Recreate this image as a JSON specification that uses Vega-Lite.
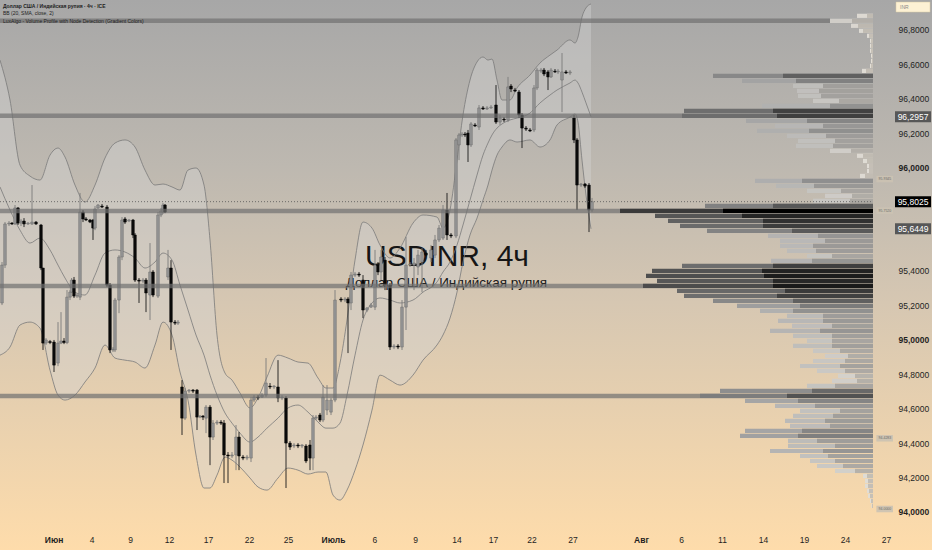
{
  "$schema": "https://vega.github.io/schema/vega-lite/v6.json",
  "width": 932,
  "height": 550,
  "padding": 0,
  "autosize": {"type": "none"},
  "background": "#fddcac",
  "config": {"view": {"stroke": null}, "font": "Liberation Sans"},
  "datasets": {
    "candles": [
      {"t":0.5,"o":95.214,"h":95.452,"l":95.202,"c":95.434},
      {"t":1.25,"o":95.434,"h":95.684,"l":95.417,"c":95.673},
      {"t":2.25,"o":95.673,"h":95.690,"l":95.661,"c":95.678},
      {"t":3,"o":95.678,"h":95.684,"l":95.667,"c":95.673},
      {"t":3.75,"o":95.673,"h":95.783,"l":95.667,"c":95.766},
      {"t":4.5,"o":95.766,"h":95.771,"l":95.667,"c":95.678},
      {"t":5.25,"o":95.678,"h":95.702,"l":95.661,"c":95.690},
      {"t":6,"o":95.690,"h":95.707,"l":95.655,"c":95.673},
      {"t":7,"o":95.673,"h":95.684,"l":95.667,"c":95.678},
      {"t":8,"o":95.673,"h":95.899,"l":95.667,"c":95.684},
      {"t":9,"o":95.684,"h":95.690,"l":95.667,"c":95.673},
      {"t":10.25,"o":95.667,"h":95.673,"l":95.405,"c":95.417},
      {"t":10.75,"o":95.417,"h":95.417,"l":94.941,"c":94.981},
      {"t":11.5,"o":94.981,"h":95.010,"l":94.970,"c":94.999},
      {"t":12.5,"o":94.990,"h":94.999,"l":94.975,"c":94.984},
      {"t":13.5,"o":94.987,"h":94.999,"l":94.813,"c":94.853},
      {"t":14.5,"o":94.865,"h":95.103,"l":94.847,"c":94.981},
      {"t":15.25,"o":94.981,"h":95.161,"l":94.975,"c":94.993},
      {"t":16,"o":94.993,"h":95.010,"l":94.975,"c":94.984},
      {"t":16.75,"o":94.984,"h":95.289,"l":94.975,"c":95.248},
      {"t":17.5,"o":95.248,"h":95.289,"l":95.231,"c":95.277},
      {"t":17.9,"o":95.277,"h":95.359,"l":95.272,"c":95.347},
      {"t":18.5,"o":95.347,"h":95.365,"l":95.243,"c":95.254},
      {"t":19.25,"o":95.254,"h":95.272,"l":95.243,"c":95.260},
      {"t":20,"o":95.248,"h":95.853,"l":95.231,"c":95.742},
      {"t":20.75,"o":95.742,"h":95.754,"l":95.684,"c":95.702},
      {"t":21.5,"o":95.702,"h":95.713,"l":95.690,"c":95.696},
      {"t":22.5,"o":95.696,"h":95.702,"l":95.678,"c":95.684},
      {"t":23.25,"o":95.696,"h":95.702,"l":95.580,"c":95.649},
      {"t":23.75,"o":95.649,"h":95.777,"l":95.637,"c":95.760},
      {"t":24.5,"o":95.766,"h":95.789,"l":95.760,"c":95.783},
      {"t":25.5,"o":95.777,"h":95.789,"l":95.766,"c":95.771},
      {"t":26.75,"o":95.771,"h":95.783,"l":95.307,"c":95.318},
      {"t":27.5,"o":95.318,"h":95.330,"l":94.923,"c":94.941},
      {"t":28.25,"o":94.941,"h":94.958,"l":94.929,"c":94.946},
      {"t":28.75,"o":94.941,"h":95.243,"l":94.929,"c":95.231},
      {"t":29.75,"o":95.231,"h":95.492,"l":95.155,"c":95.481},
      {"t":30.5,"o":95.481,"h":95.713,"l":95.463,"c":95.696},
      {"t":31.25,"o":95.702,"h":95.713,"l":95.673,"c":95.684},
      {"t":32.25,"o":95.690,"h":95.702,"l":95.684,"c":95.696},
      {"t":33.25,"o":95.696,"h":95.702,"l":95.591,"c":95.609},
      {"t":33.75,"o":95.609,"h":95.620,"l":95.336,"c":95.347},
      {"t":34.75,"o":95.347,"h":95.359,"l":95.214,"c":95.341},
      {"t":35.75,"o":95.341,"h":95.359,"l":95.330,"c":95.347},
      {"t":36.5,"o":95.347,"h":95.359,"l":95.161,"c":95.272},
      {"t":37.5,"o":95.260,"h":95.562,"l":95.115,"c":95.394},
      {"t":38.25,"o":95.394,"h":95.405,"l":95.248,"c":95.260},
      {"t":39.5,"o":95.254,"h":95.742,"l":95.243,"c":95.725},
      {"t":40.25,"o":95.725,"h":95.766,"l":95.713,"c":95.748},
      {"t":40.75,"o":95.742,"h":95.795,"l":95.731,"c":95.783},
      {"t":41.25,"o":95.783,"h":95.789,"l":95.736,"c":95.742},
      {"t":42,"o":95.365,"h":95.522,"l":95.347,"c":95.417},
      {"t":42.75,"o":95.417,"h":95.463,"l":94.941,"c":95.103},
      {"t":43.75,"o":95.103,"h":95.115,"l":95.086,"c":95.097},
      {"t":44.5,"o":95.097,"h":95.115,"l":95.086,"c":95.103},
      {"t":45.5,"o":94.726,"h":94.766,"l":94.447,"c":94.545},
      {"t":46.25,"o":94.545,"h":94.720,"l":94.534,"c":94.702},
      {"t":47.25,"o":94.702,"h":94.714,"l":94.691,"c":94.708},
      {"t":48.25,"o":94.708,"h":94.714,"l":94.691,"c":94.702},
      {"t":49.25,"o":94.708,"h":94.714,"l":94.476,"c":94.551},
      {"t":50,"o":94.551,"h":94.563,"l":94.545,"c":94.557},
      {"t":50.75,"o":94.557,"h":94.563,"l":94.534,"c":94.551},
      {"t":51.5,"o":94.545,"h":94.621,"l":94.458,"c":94.609},
      {"t":52.5,"o":94.609,"h":94.621,"l":94.272,"c":94.435},
      {"t":53.25,"o":94.435,"h":94.534,"l":94.418,"c":94.516},
      {"t":54.25,"o":94.516,"h":94.534,"l":94.505,"c":94.522},
      {"t":55.25,"o":94.522,"h":94.534,"l":94.505,"c":94.516},
      {"t":56,"o":94.516,"h":94.534,"l":94.168,"c":94.331},
      {"t":57,"o":94.331,"h":94.348,"l":94.168,"c":94.325},
      {"t":58,"o":94.325,"h":94.348,"l":94.313,"c":94.331},
      {"t":59,"o":94.331,"h":94.505,"l":94.243,"c":94.435},
      {"t":59.75,"o":94.435,"h":94.464,"l":94.243,"c":94.325},
      {"t":60.75,"o":94.319,"h":94.331,"l":94.301,"c":94.313},
      {"t":61.75,"o":94.313,"h":94.331,"l":94.301,"c":94.319},
      {"t":62.75,"o":94.313,"h":94.667,"l":94.290,"c":94.650},
      {"t":63.5,"o":94.650,"h":94.679,"l":94.638,"c":94.667},
      {"t":64.5,"o":94.667,"h":94.679,"l":94.650,"c":94.662},
      {"t":65.5,"o":94.667,"h":94.691,"l":94.662,"c":94.679},
      {"t":66.5,"o":94.679,"h":94.894,"l":94.667,"c":94.749},
      {"t":67.5,"o":94.731,"h":94.749,"l":94.714,"c":94.726},
      {"t":68.5,"o":94.726,"h":94.737,"l":94.714,"c":94.731},
      {"t":69.5,"o":94.726,"h":94.882,"l":94.638,"c":94.662},
      {"t":70.5,"o":94.662,"h":94.679,"l":94.650,"c":94.667},
      {"t":71.5,"o":94.662,"h":94.673,"l":94.139,"c":94.400},
      {"t":72.5,"o":94.400,"h":94.412,"l":94.360,"c":94.377},
      {"t":73.5,"o":94.383,"h":94.400,"l":94.371,"c":94.389},
      {"t":74.5,"o":94.389,"h":94.400,"l":94.371,"c":94.383},
      {"t":75.5,"o":94.383,"h":94.394,"l":94.371,"c":94.389},
      {"t":76.5,"o":94.383,"h":94.394,"l":94.284,"c":94.296},
      {"t":77.5,"o":94.389,"h":94.418,"l":94.243,"c":94.313},
      {"t":78.25,"o":94.313,"h":94.563,"l":94.243,"c":94.545},
      {"t":79,"o":94.545,"h":94.563,"l":94.534,"c":94.551},
      {"t":80,"o":94.563,"h":94.575,"l":94.522,"c":94.534},
      {"t":80.75,"o":94.534,"h":94.737,"l":94.522,"c":94.667},
      {"t":81.75,"o":94.592,"h":94.737,"l":94.563,"c":94.650},
      {"t":82.75,"o":94.580,"h":94.662,"l":94.563,"c":94.650},
      {"t":83.75,"o":94.650,"h":95.289,"l":94.638,"c":95.231},
      {"t":85.25,"o":95.237,"h":95.248,"l":95.219,"c":95.231},
      {"t":86.25,"o":95.231,"h":95.248,"l":95.219,"c":95.237},
      {"t":87,"o":95.237,"h":95.248,"l":94.923,"c":95.214},
      {"t":87.75,"o":95.214,"h":95.394,"l":95.173,"c":95.376},
      {"t":88.75,"o":95.376,"h":95.394,"l":95.365,"c":95.382},
      {"t":89.75,"o":95.382,"h":95.394,"l":95.365,"c":95.376},
      {"t":90.75,"o":95.347,"h":95.376,"l":95.126,"c":95.173},
      {"t":91.75,"o":95.173,"h":95.190,"l":95.161,"c":95.185},
      {"t":92.75,"o":95.190,"h":95.214,"l":95.185,"c":95.202},
      {"t":93.75,"o":95.190,"h":95.522,"l":95.173,"c":95.434},
      {"t":94.5,"o":95.434,"h":95.452,"l":95.376,"c":95.394},
      {"t":95.25,"o":95.394,"h":95.522,"l":95.347,"c":95.481},
      {"t":96.25,"o":95.463,"h":95.481,"l":95.289,"c":95.318},
      {"t":97.5,"o":95.318,"h":95.330,"l":94.941,"c":94.958},
      {"t":98.5,"o":94.958,"h":94.975,"l":94.946,"c":94.964},
      {"t":99.5,"o":94.964,"h":94.975,"l":94.946,"c":94.958},
      {"t":100.5,"o":94.958,"h":95.231,"l":94.941,"c":95.190},
      {"t":101.5,"o":95.190,"h":95.597,"l":95.057,"c":95.434},
      {"t":102.5,"o":95.434,"h":95.452,"l":95.423,"c":95.440},
      {"t":103.5,"o":95.434,"h":95.475,"l":95.289,"c":95.446},
      {"t":104.5,"o":95.423,"h":95.522,"l":95.376,"c":95.492},
      {"t":105.5,"o":95.452,"h":95.533,"l":95.277,"c":95.510},
      {"t":106.5,"o":95.504,"h":95.522,"l":95.481,"c":95.492},
      {"t":107.75,"o":95.475,"h":95.551,"l":95.452,"c":95.522},
      {"t":108.75,"o":95.492,"h":95.609,"l":95.475,"c":95.580},
      {"t":109.75,"o":95.580,"h":95.667,"l":95.568,"c":95.649},
      {"t":110.75,"o":95.591,"h":95.783,"l":95.580,"c":95.754},
      {"t":111.75,"o":95.754,"h":95.853,"l":95.580,"c":95.609},
      {"t":112.75,"o":95.609,"h":95.620,"l":95.591,"c":95.603},
      {"t":114,"o":95.603,"h":96.172,"l":95.591,"c":96.161},
      {"t":114.75,"o":96.132,"h":96.201,"l":96.044,"c":96.190},
      {"t":115.5,"o":96.190,"h":96.207,"l":96.178,"c":96.195},
      {"t":116.25,"o":96.195,"h":96.207,"l":96.178,"c":96.190},
      {"t":117,"o":96.201,"h":96.219,"l":96.033,"c":96.132},
      {"t":117.75,"o":96.132,"h":96.265,"l":96.120,"c":96.254},
      {"t":118.75,"o":96.248,"h":96.259,"l":96.236,"c":96.242},
      {"t":119.75,"o":96.236,"h":96.364,"l":96.219,"c":96.347},
      {"t":120.75,"o":96.347,"h":96.358,"l":96.335,"c":96.341},
      {"t":121.75,"o":96.341,"h":96.358,"l":96.335,"c":96.347},
      {"t":122.75,"o":96.347,"h":96.364,"l":96.341,"c":96.352},
      {"t":124,"o":96.364,"h":96.480,"l":96.254,"c":96.265},
      {"t":125,"o":96.265,"h":96.306,"l":96.248,"c":96.288},
      {"t":126,"o":96.282,"h":96.294,"l":96.265,"c":96.277},
      {"t":127,"o":96.277,"h":96.527,"l":96.265,"c":96.469},
      {"t":127.75,"o":96.474,"h":96.486,"l":96.439,"c":96.457},
      {"t":128.75,"o":96.451,"h":96.463,"l":96.439,"c":96.445},
      {"t":129.75,"o":96.439,"h":96.451,"l":96.288,"c":96.306},
      {"t":130.5,"o":96.306,"h":96.317,"l":96.114,"c":96.230},
      {"t":131.5,"o":96.230,"h":96.242,"l":96.213,"c":96.224},
      {"t":132.5,"o":96.219,"h":96.230,"l":96.207,"c":96.213},
      {"t":133.5,"o":96.219,"h":96.480,"l":96.207,"c":96.463},
      {"t":134.25,"o":96.463,"h":96.579,"l":96.451,"c":96.567},
      {"t":135.25,"o":96.561,"h":96.579,"l":96.550,"c":96.567},
      {"t":136,"o":96.567,"h":96.579,"l":96.532,"c":96.544},
      {"t":137,"o":96.556,"h":96.567,"l":96.451,"c":96.527},
      {"t":137.75,"o":96.527,"h":96.579,"l":96.521,"c":96.567},
      {"t":138.75,"o":96.561,"h":96.573,"l":96.550,"c":96.556},
      {"t":139.5,"o":96.556,"h":96.573,"l":96.544,"c":96.561},
      {"t":140.5,"o":96.509,"h":96.666,"l":96.323,"c":96.556},
      {"t":141.5,"o":96.556,"h":96.567,"l":96.544,"c":96.550},
      {"t":142.5,"o":96.550,"h":96.567,"l":96.538,"c":96.556},
      {"t":143.5,"o":96.288,"h":96.306,"l":96.143,"c":96.161},
      {"t":144.25,"o":96.161,"h":96.172,"l":95.754,"c":95.899},
      {"t":145.25,"o":95.899,"h":95.911,"l":95.888,"c":95.905},
      {"t":146.25,"o":95.905,"h":95.911,"l":95.882,"c":95.893},
      {"t":147.25,"o":95.899,"h":95.911,"l":95.626,"c":95.754},
      {"t":148,"o":95.754,"h":95.824,"l":95.742,"c":95.8025}
    ],
    "bands": [
      {"t":0,"up":96.625,"mid":95.888,"low":94.911},
      {"t":2.5,"up":96.393,"mid":95.754,"low":94.958},
      {"t":5,"up":96.015,"mid":95.637,"low":95.086},
      {"t":7.5,"up":95.951,"mid":95.562,"low":95.103},
      {"t":10,"up":95.928,"mid":95.591,"low":95.068},
      {"t":12.5,"up":96.073,"mid":95.522,"low":94.824},
      {"t":14.5,"up":96.114,"mid":95.434,"low":94.679},
      {"t":16.25,"up":96.062,"mid":95.359,"low":94.650},
      {"t":18.75,"up":95.899,"mid":95.277,"low":94.679},
      {"t":21.25,"up":95.800,"mid":95.260,"low":94.755},
      {"t":23.75,"up":95.899,"mid":95.376,"low":94.836},
      {"t":26.25,"up":96.056,"mid":95.504,"low":94.970},
      {"t":28.75,"up":96.143,"mid":95.522,"low":94.894},
      {"t":31.25,"up":96.161,"mid":95.510,"low":94.882},
      {"t":33.75,"up":96.120,"mid":95.475,"low":94.871},
      {"t":36.25,"up":95.986,"mid":95.417,"low":94.836},
      {"t":38.75,"up":95.899,"mid":95.452,"low":94.970},
      {"t":40.75,"up":95.905,"mid":95.504,"low":95.103},
      {"t":43,"up":95.888,"mid":95.463,"low":95.028},
      {"t":45,"up":95.870,"mid":95.318,"low":94.813},
      {"t":47,"up":95.986,"mid":95.173,"low":94.650},
      {"t":49,"up":95.998,"mid":95.028,"low":94.331},
      {"t":51,"up":95.899,"mid":94.911,"low":94.139},
      {"t":52.5,"up":95.580,"mid":94.795,"low":94.139},
      {"t":54.25,"up":95.028,"mid":94.679,"low":94.214},
      {"t":56.25,"up":94.807,"mid":94.575,"low":94.319},
      {"t":58,"up":94.766,"mid":94.516,"low":94.301},
      {"t":60,"up":94.691,"mid":94.458,"low":94.261},
      {"t":62.5,"up":94.604,"mid":94.406,"low":94.197},
      {"t":64.5,"up":94.662,"mid":94.435,"low":94.145},
      {"t":66.75,"up":94.784,"mid":94.487,"low":94.127},
      {"t":69.5,"up":94.911,"mid":94.545,"low":94.197},
      {"t":72,"up":94.894,"mid":94.604,"low":94.255},
      {"t":74.5,"up":94.871,"mid":94.621,"low":94.243},
      {"t":77,"up":94.865,"mid":94.580,"low":94.220},
      {"t":79.5,"up":94.778,"mid":94.522,"low":94.232},
      {"t":81.5,"up":94.720,"mid":94.487,"low":94.232},
      {"t":83.25,"up":94.720,"mid":94.487,"low":94.098},
      {"t":85,"up":94.865,"mid":94.516,"low":94.069},
      {"t":86.75,"up":95.115,"mid":94.679,"low":94.127},
      {"t":88.75,"up":95.463,"mid":94.911,"low":94.243},
      {"t":90.75,"up":95.684,"mid":95.115,"low":94.389},
      {"t":93,"up":95.649,"mid":95.214,"low":94.592},
      {"t":95,"up":95.551,"mid":95.243,"low":94.795},
      {"t":97.5,"up":95.475,"mid":95.231,"low":94.766},
      {"t":100,"up":95.533,"mid":95.214,"low":94.737},
      {"t":103.25,"up":95.678,"mid":95.231,"low":94.795},
      {"t":105.75,"up":95.725,"mid":95.277,"low":94.882},
      {"t":109.25,"up":95.713,"mid":95.336,"low":94.970},
      {"t":110.75,"up":95.649,"mid":95.394,"low":95.028},
      {"t":112.5,"up":95.754,"mid":95.452,"low":95.126},
      {"t":114.25,"up":96.044,"mid":95.551,"low":95.277},
      {"t":115.75,"up":96.306,"mid":95.667,"low":95.452},
      {"t":117.5,"up":96.509,"mid":95.812,"low":95.609},
      {"t":119.25,"up":96.614,"mid":95.957,"low":95.707},
      {"t":120.75,"up":96.643,"mid":96.073,"low":95.812},
      {"t":122,"up":96.625,"mid":96.143,"low":95.899},
      {"t":123,"up":96.631,"mid":96.190,"low":95.986},
      {"t":124.25,"up":96.509,"mid":96.230,"low":96.073},
      {"t":125.5,"up":96.393,"mid":96.254,"low":96.120},
      {"t":127.5,"up":96.393,"mid":96.277,"low":96.161},
      {"t":129.25,"up":96.463,"mid":96.288,"low":96.149},
      {"t":132.5,"up":96.538,"mid":96.317,"low":96.161},
      {"t":135,"up":96.608,"mid":96.376,"low":96.120},
      {"t":137.5,"up":96.654,"mid":96.422,"low":96.161},
      {"t":139.25,"up":96.683,"mid":96.451,"low":96.248},
      {"t":142.5,"up":96.742,"mid":96.492,"low":96.294},
      {"t":143.75,"up":96.724,"mid":96.509,"low":96.312},
      {"t":144.5,"up":96.759,"mid":96.492,"low":96.265},
      {"t":145.5,"up":96.875,"mid":96.439,"low":96.044},
      {"t":146.5,"up":96.928,"mid":96.376,"low":95.841},
      {"t":147.75,"up":96.951,"mid":96.2957,"low":95.6449}
    ],
    "profile": [
      {"p":94.035,"tot":0.15,"inn":0.1},{"p":94.064,"tot":0.3,"inn":0.2},{"p":94.093,"tot":0.5,"inn":0.3},
      {"p":94.122,"tot":0.6,"inn":0.4},{"p":94.151,"tot":0.8,"inn":0.5},{"p":94.180,"tot":0.8,"inn":0.5},
      {"p":94.209,"tot":1.0,"inn":0.6},{"p":94.238,"tot":3.8,"inn":1.8},{"p":94.267,"tot":5.6,"inn":3.0},
      {"p":94.296,"tot":6.3,"inn":3.8},{"p":94.325,"tot":7.3,"inn":4.5},{"p":94.354,"tot":10.3,"inn":5.0},
      {"p":94.384,"tot":8.5,"inn":3.8},{"p":94.413,"tot":8.5,"inn":5.6},{"p":94.442,"tot":13.3,"inn":7.5},
      {"p":94.471,"tot":12.8,"inn":7.1},{"p":94.500,"tot":8.3,"inn":4.3},{"p":94.529,"tot":8.8,"inn":4.8},
      {"p":94.558,"tot":8.0,"inn":4.0},{"p":94.587,"tot":7.3,"inn":3.3},{"p":94.616,"tot":9.8,"inn":5.8},
      {"p":94.645,"tot":12.8,"inn":7.5},{"p":94.674,"tot":17.3,"inn":8.6},{"p":94.703,"tot":15.3,"inn":6.1},
      {"p":94.732,"tot":6.6,"inn":3.8},{"p":94.761,"tot":4.1,"inn":1.6},{"p":94.790,"tot":3.5,"inn":1.8},
      {"p":94.819,"tot":5.6,"inn":2.8},{"p":94.848,"tot":7.3,"inn":3.3},{"p":94.877,"tot":6.0,"inn":2.8},
      {"p":94.906,"tot":4.8,"inn":2.5},{"p":94.936,"tot":6.0,"inn":3.3},{"p":94.965,"tot":8.0,"inn":4.1},
      {"p":94.994,"tot":6.6,"inn":4.1},{"p":95.023,"tot":8.0,"inn":4.1},{"p":95.052,"tot":10.3,"inn":5.3},
      {"p":95.081,"tot":8.1,"inn":4.1},{"p":95.110,"tot":9.5,"inn":5.0},{"p":95.139,"tot":8.6,"inn":5.0},
      {"p":95.168,"tot":11.3,"inn":8.0},{"p":95.197,"tot":13.6,"inn":7.3},{"p":95.226,"tot":16.0,"inn":8.0},
      {"p":95.255,"tot":18.9,"inn":9.6},{"p":95.284,"tot":19.6,"inn":8.8},{"p":95.313,"tot":23.0,"inn":10.0},
      {"p":95.342,"tot":21.6,"inn":10.0},{"p":95.371,"tot":22.7,"inn":10.9},{"p":95.400,"tot":22.1,"inn":11.1},
      {"p":95.429,"tot":19.1,"inn":10.0},{"p":95.458,"tot":10.2,"inn":6.1},{"p":95.487,"tot":6.6,"inn":4.1},
      {"p":95.517,"tot":8.6,"inn":5.7},{"p":95.546,"tot":9.3,"inn":6.0},{"p":95.575,"tot":9.3,"inn":4.8},
      {"p":95.604,"tot":10.5,"inn":5.5},{"p":95.633,"tot":16.6,"inn":8.1},{"p":95.662,"tot":19.3,"inn":11.0},
      {"p":95.691,"tot":20.5,"inn":11.0},{"p":95.720,"tot":21.8,"inn":13.1},{"p":95.749,"tot":25.3,"inn":15.0},
      {"p":95.778,"tot":16.8,"inn":10.0},{"p":95.807,"tot":6.0,"inn":2.3},{"p":95.836,"tot":4.8,"inn":2.1},
      {"p":95.865,"tot":6.6,"inn":3.2},{"p":95.894,"tot":9.7,"inn":5.9},{"p":95.923,"tot":11.8,"inn":7.1},
      {"p":95.952,"tot":1.3,"inn":0.8},{"p":95.981,"tot":0.6,"inn":0.4},{"p":96.010,"tot":0.6,"inn":0.4},
      {"p":96.039,"tot":1.0,"inn":0.6},{"p":96.069,"tot":1.6,"inn":1.0},{"p":96.098,"tot":4.3,"inn":2.2},
      {"p":96.127,"tot":7.7,"inn":4.0},{"p":96.156,"tot":7.5,"inn":3.8},{"p":96.185,"tot":8.6,"inn":4.7},
      {"p":96.214,"tot":11.6,"inn":6.4},{"p":96.243,"tot":9.8,"inn":5.0},{"p":96.272,"tot":12.7,"inn":6.6},
      {"p":96.301,"tot":19.1,"inn":9.6},{"p":96.330,"tot":18.9,"inn":10.0},{"p":96.359,"tot":11.1,"inn":4.3},
      {"p":96.388,"tot":6.0,"inn":3.4},{"p":96.417,"tot":7.5,"inn":5.2},{"p":96.446,"tot":7.6,"inn":5.4},
      {"p":96.475,"tot":8.0,"inn":5.0},{"p":96.504,"tot":13.1,"inn":7.7},{"p":96.533,"tot":16.0,"inn":9.0},
      {"p":96.562,"tot":1.1,"inn":0.7},{"p":96.591,"tot":0.3,"inn":0.2},{"p":96.620,"tot":0.2,"inn":0.1},
      {"p":96.650,"tot":0.2,"inn":0.1},{"p":96.679,"tot":0.3,"inn":0.2},{"p":96.708,"tot":0.3,"inn":0.2},
      {"p":96.737,"tot":0.3,"inn":0.2},{"p":96.766,"tot":0.6,"inn":0.4},{"p":96.795,"tot":1.4,"inn":1.0},
      {"p":96.824,"tot":2.2,"inn":1.5},{"p":96.853,"tot":4.3,"inn":2.1},{"p":96.882,"tot":1.6,"inn":0.6}
    ],
    "nodes": [
      {"p":96.853,"start":0,"end":207.5},
      {"p":96.301,"start":0,"end":218.25},
      {"p":95.749,"start":0,"end":218.25},
      {"p":95.313,"start":0,"end":218.25},
      {"p":94.674,"start":0,"end":218.25}
    ],
    "tags": [
      {"p":96.2957,"t0":223.75,"t1":232.75,"txt":"96,2957","kind":"bb"},
      {"p":95.8025,"t0":223.75,"t1":232.75,"txt":"95,8025","kind":"price"},
      {"p":95.6449,"t0":223.75,"t1":232.75,"txt":"95,6449","kind":"bb"}
    ],
    "nodetags": [
      {"p":95.934,"t0":219.1,"t1":223.25,"txt":"95.9345"},
      {"p":95.750,"t0":219.1,"t1":223.25,"txt":"95.7520"},
      {"p":94.428,"t0":219.1,"t1":223.25,"txt":"94.4283"},
      {"p":94.017,"t0":219.1,"t1":223.25,"txt":"94.0000"}
    ],
    "currency": [{"p":96.933,"t0":224,"t1":232.5,"txt":"INR"}],
    "lastprice": [{"p":95.8025,"start":0,"end":218.25}],
    "header": [
      {"t":0.75,"p":96.939,"txt":"Доллар США / Индийская рупия · 4ч · ICE","n":1},
      {"t":0.75,"p":96.897,"txt":"BB (20, SMA, close, 2)","n":2},
      {"t":0.75,"p":96.854,"txt":"LuxAlgo - Volume Profile with Node Detection (Gradient Colors)","n":3}
    ],
    "frame": [{"t0":0,"t1":233,"p0":93.779,"p1":96.974}]
  },
  "layer": [
    {
      "data": {"name": "frame"},
      "mark": {
        "type": "rect",
        "color": {
          "gradient": "linear", "x1": 0, "y1": 0, "x2": 0, "y2": 1,
          "stops": [
            {"offset": 0, "color": "#a7a7a7"},
            {"offset": 0.3, "color": "#bdb8b0"},
            {"offset": 0.55, "color": "#d6c7b2"},
            {"offset": 1, "color": "#fedcab"}
          ]
        }
      },
      "encoding": {
        "x": {"field": "t0", "type": "quantitative", "scale": {"domain": [0, 233], "nice": false, "zero": false, "padding": 0}, "axis": null},
        "x2": {"field": "t1"},
        "y": {"field": "p0", "type": "quantitative", "scale": {"domain": [93.779, 96.974], "nice": false, "zero": false, "padding": 0}, "axis": null},
        "y2": {"field": "p1"}
      }
    },
    {
      "data": {"name": "bands"},
      "mark": {"type": "area", "interpolate": "monotone", "color": "#d4d4d4", "opacity": 0.4},
      "encoding": {
        "x": {"field": "t", "type": "quantitative", "scale": {"domain": [0, 233], "nice": false, "zero": false, "padding": 0}, "axis": null},
        "y": {"field": "up", "type": "quantitative", "scale": {"domain": [93.779, 96.974], "nice": false, "zero": false, "padding": 0}, "axis": null},
        "y2": {"field": "low"}
      }
    },
    {
      "data": {"values": [{"t": 111.75, "p": 95.429, "txt": "USDINR, 4ч"}]},
      "mark": {"type": "text", "fontSize": 30, "align": "center", "baseline": "alphabetic", "color": "#161616"},
      "encoding": {
        "x": {"field": "t", "type": "quantitative", "scale": {"domain": [0, 233], "nice": false, "zero": false, "padding": 0}, "axis": null},
        "y": {"field": "p", "type": "quantitative", "scale": {"domain": [93.779, 96.974], "nice": false, "zero": false, "padding": 0}, "axis": null},
        "text": {"field": "txt", "type": "nominal"}
      }
    },
    {
      "data": {"values": [{"t": 111.6, "p": 95.3065, "txt": "Доллар США / Индийская рупия"}]},
      "mark": {"type": "text", "fontSize": 13.5, "align": "center", "baseline": "alphabetic", "color": "#161616"},
      "encoding": {
        "x": {"field": "t", "type": "quantitative", "scale": {"domain": [0, 233], "nice": false, "zero": false, "padding": 0}, "axis": null},
        "y": {"field": "p", "type": "quantitative", "scale": {"domain": [93.779, 96.974], "nice": false, "zero": false, "padding": 0}, "axis": null},
        "text": {"field": "txt", "type": "nominal"}
      }
    },
    {
      "data": {"name": "bands"},
      "transform": [{"fold": ["up", "mid", "low"], "as": ["band", "v"]}],
      "mark": {"type": "line", "interpolate": "monotone", "color": "#7a7a7a", "strokeWidth": 0.8},
      "encoding": {
        "x": {"field": "t", "type": "quantitative", "scale": {"domain": [0, 233], "nice": false, "zero": false, "padding": 0}, "axis": null},
        "y": {"field": "v", "type": "quantitative", "scale": {"domain": [93.779, 96.974], "nice": false, "zero": false, "padding": 0}, "axis": null},
        "detail": {"field": "band", "type": "nominal"}
      }
    },
    {
      "data": {"name": "candles"},
      "mark": {"type": "rule", "strokeWidth": 0.9},
      "encoding": {
        "x": {
          "field": "t", "type": "quantitative",
          "scale": {"domain": [0, 233], "nice": false, "zero": false, "padding": 0},
          "axis": {
            "orient": "bottom", "offset": -30, "title": null,
            "values": [13.4,22.9,32.5,42.25,52,62.25,72,83.25,93.6,103.75,114.15,123.25,132.9,143.1,160.25,170.25,180.5,190.75,201,211.25,221.5],
            "labelExpr": "datum.value == 13.4 ? 'Июн' : datum.value == 22.9 ? '4' : datum.value == 32.5 ? '9' : datum.value == 42.25 ? '12' : datum.value == 52 ? '17' : datum.value == 62.25 ? '22' : datum.value == 72 ? '25' : datum.value == 83.25 ? 'Июль' : datum.value == 93.6 ? '6' : datum.value == 103.75 ? '9' : datum.value == 114.15 ? '14' : datum.value == 123.25 ? '17' : datum.value == 132.9 ? '22' : datum.value == 143.1 ? '27' : datum.value == 160.25 ? 'Авг' : datum.value == 170.25 ? '6' : datum.value == 180.5 ? '11' : datum.value == 190.75 ? '14' : datum.value == 201 ? '19' : datum.value == 211.25 ? '24' : '27'",
            "domain": false, "ticks": false, "grid": false,
            "labelPadding": 15, "labelFontSize": 8.5, "labelColor": "#1f1f1f",
            "labelFlush": false, "labelOverlap": false,
            "labelFontWeight": {"condition": {"test": "datum.value == 13.4 || datum.value == 83.25 || datum.value == 160.25", "value": "bold"}, "value": "normal"},
            "zindex": 1
          }
        },
        "y": {
          "field": "l", "type": "quantitative",
          "scale": {"domain": [93.779, 96.974], "nice": false, "zero": false, "padding": 0},
          "axis": {
            "orient": "right", "offset": -60, "title": null,
            "values": [94,94.2,94.4,94.6,94.8,95,95.2,95.4,96,96.2,96.4,96.6,96.8],
            "labelExpr": "replace(format(datum.value, '.4f'), '.', ',')",
            "domain": false, "ticks": false, "grid": false,
            "labelPadding": 26, "labelFontSize": 8.5, "labelColor": "#1f1f1f",
            "labelOverlap": false, "labelFlush": false,
            "labelFontWeight": {"condition": {"test": "datum.value == 94 || datum.value == 95 || datum.value == 96", "value": "bold"}, "value": "normal"},
            "zindex": 1
          }
        },
        "y2": {"field": "h"},
        "color": {"condition": {"test": "datum.c < datum.o", "value": "#1a1a1a"}, "value": "#7a7a7a"}
      }
    },
    {
      "data": {"name": "candles"},
      "mark": {"type": "bar", "size": 2.6, "strokeWidth": 0.5},
      "encoding": {
        "x": {"field": "t", "type": "quantitative", "scale": {"domain": [0, 233], "nice": false, "zero": false, "padding": 0}, "axis": null},
        "y": {"field": "o", "type": "quantitative", "scale": {"domain": [93.779, 96.974], "nice": false, "zero": false, "padding": 0}, "axis": null},
        "y2": {"field": "c"},
        "color": {"condition": {"test": "datum.c < datum.o", "value": "#0a0a0a"}, "value": "#959595"},
        "stroke": {"condition": {"test": "datum.c < datum.o", "value": "#000000"}, "value": "#6b6b6b"}
      }
    },
    {
      "data": {"name": "nodes"},
      "mark": {"type": "rule", "strokeWidth": 4.5, "color": "#707070", "opacity": 0.7},
      "encoding": {
        "x": {"field": "start", "type": "quantitative", "scale": {"domain": [0, 233], "nice": false, "zero": false, "padding": 0}, "axis": null},
        "x2": {"field": "end"},
        "y": {"field": "p", "type": "quantitative", "scale": {"domain": [93.779, 96.974], "nice": false, "zero": false, "padding": 0}, "axis": null}
      }
    },
    {
      "data": {"name": "header"},
      "mark": {"type": "text", "fontSize": 5, "align": "left", "baseline": "middle", "color": "#222222", "fontWeight": {"expr": "datum.n == 1 ? 'bold' : 'normal'"}},
      "encoding": {
        "x": {"field": "t", "type": "quantitative", "scale": {"domain": [0, 233], "nice": false, "zero": false, "padding": 0}, "axis": null},
        "y": {"field": "p", "type": "quantitative", "scale": {"domain": [93.779, 96.974], "nice": false, "zero": false, "padding": 0}, "axis": null},
        "text": {"field": "txt", "type": "nominal"}
      }
    },
    {
      "data": {"name": "profile"},
      "mark": {"type": "bar", "orient": "horizontal", "size": 4.2},
      "encoding": {
        "x": {"field": "tot", "type": "quantitative", "scale": {"domain": [-5.9, 87.3], "reverse": true, "nice": false, "padding": 0}, "axis": null},
        "y": {"field": "p", "type": "quantitative", "scale": {"domain": [93.779, 96.974], "nice": false, "zero": false, "padding": 0}, "axis": null},
        "color": {"field": "tot", "type": "quantitative", "scale": {"domain": [0, 12, 25], "range": ["#e4e0d8", "#adadad", "#3c3c3c"]}, "legend": null}
      }
    },
    {
      "data": {"name": "profile"},
      "mark": {"type": "bar", "orient": "horizontal", "size": 4.2},
      "encoding": {
        "x": {"field": "inn", "type": "quantitative", "scale": {"domain": [-5.9, 87.3], "reverse": true, "nice": false, "padding": 0}, "axis": null},
        "y": {"field": "p", "type": "quantitative", "scale": {"domain": [93.779, 96.974], "nice": false, "zero": false, "padding": 0}, "axis": null},
        "fill": {"field": "tot", "type": "quantitative", "scale": {"domain": [0, 12, 25], "range": ["#c8c2b8", "#8e8e8e", "#000000"]}, "legend": null}
      }
    },
    {
      "data": {"name": "lastprice"},
      "mark": {"type": "rule", "strokeWidth": 0.8, "color": "#555555", "strokeDash": [1, 2]},
      "encoding": {
        "x": {"field": "start", "type": "quantitative", "scale": {"domain": [0, 233], "nice": false, "zero": false, "padding": 0}, "axis": null},
        "x2": {"field": "end"},
        "y": {"field": "p", "type": "quantitative", "scale": {"domain": [93.779, 96.974], "nice": false, "zero": false, "padding": 0}, "axis": null}
      }
    },
    {
      "data": {"name": "tags"},
      "mark": {"type": "bar", "orient": "horizontal", "size": 11},
      "encoding": {
        "x": {"field": "t0", "type": "quantitative", "scale": {"domain": [0, 233], "nice": false, "zero": false, "padding": 0}, "axis": null},
        "x2": {"field": "t1"},
        "y": {"field": "p", "type": "quantitative", "scale": {"domain": [93.779, 96.974], "nice": false, "zero": false, "padding": 0}, "axis": null},
        "color": {"condition": {"test": "datum.kind == 'price'", "value": "#000000"}, "value": "#575757"}
      }
    },
    {
      "data": {"name": "tags"},
      "mark": {"type": "text", "fontSize": 8.5, "align": "center", "baseline": "middle", "color": "#ffffff", "dx": 18},
      "encoding": {
        "x": {"field": "t0", "type": "quantitative", "scale": {"domain": [0, 233], "nice": false, "zero": false, "padding": 0}, "axis": null},
        "y": {"field": "p", "type": "quantitative", "scale": {"domain": [93.779, 96.974], "nice": false, "zero": false, "padding": 0}, "axis": null},
        "text": {"field": "txt", "type": "nominal"}
      }
    },
    {
      "data": {"name": "nodetags"},
      "mark": {"type": "bar", "orient": "horizontal", "size": 6.5, "color": "#cbc2b3", "opacity": 0.9},
      "encoding": {
        "x": {"field": "t0", "type": "quantitative", "scale": {"domain": [0, 233], "nice": false, "zero": false, "padding": 0}, "axis": null},
        "x2": {"field": "t1"},
        "y": {"field": "p", "type": "quantitative", "scale": {"domain": [93.779, 96.974], "nice": false, "zero": false, "padding": 0}, "axis": null}
      }
    },
    {
      "data": {"name": "nodetags"},
      "mark": {"type": "text", "fontSize": 3.5, "align": "center", "baseline": "middle", "color": "#6a6a6a", "dx": 8.5},
      "encoding": {
        "x": {"field": "t0", "type": "quantitative", "scale": {"domain": [0, 233], "nice": false, "zero": false, "padding": 0}, "axis": null},
        "y": {"field": "p", "type": "quantitative", "scale": {"domain": [93.779, 96.974], "nice": false, "zero": false, "padding": 0}, "axis": null},
        "text": {"field": "txt", "type": "nominal"}
      }
    },
    {
      "data": {"name": "currency"},
      "mark": {"type": "bar", "orient": "horizontal", "size": 10, "color": "#fdf1d4", "stroke": "#d9c9a6", "strokeWidth": 0.5},
      "encoding": {
        "x": {"field": "t0", "type": "quantitative", "scale": {"domain": [0, 233], "nice": false, "zero": false, "padding": 0}, "axis": null},
        "x2": {"field": "t1"},
        "y": {"field": "p", "type": "quantitative", "scale": {"domain": [93.779, 96.974], "nice": false, "zero": false, "padding": 0}, "axis": null}
      }
    },
    {
      "data": {"name": "currency"},
      "mark": {"type": "text", "fontSize": 5, "align": "left", "baseline": "middle", "color": "#8a8a8a", "dx": 4},
      "encoding": {
        "x": {"field": "t0", "type": "quantitative", "scale": {"domain": [0, 233], "nice": false, "zero": false, "padding": 0}, "axis": null},
        "y": {"field": "p", "type": "quantitative", "scale": {"domain": [93.779, 96.974], "nice": false, "zero": false, "padding": 0}, "axis": null},
        "text": {"field": "txt", "type": "nominal"}
      }
    }
  ],
  "resolve": {"scale": {"x": "independent", "y": "independent"}}
}
